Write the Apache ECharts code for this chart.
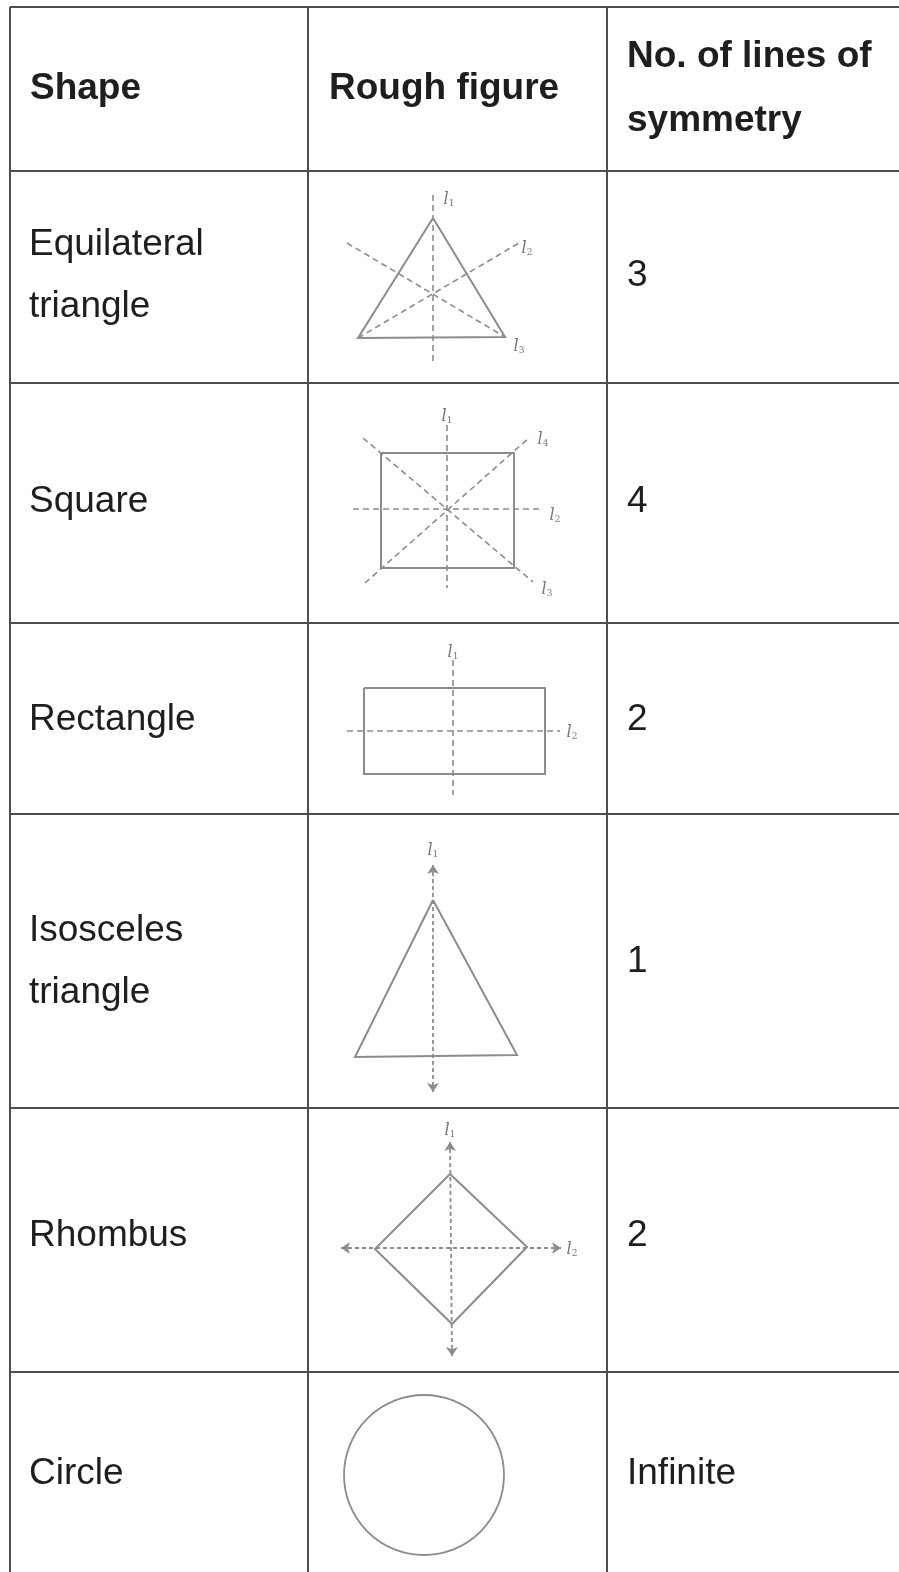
<!DOCTYPE html>
<html>
<head>
<meta charset="utf-8">
<script src="https://cdn.jsdelivr.net/npm/echarts@6/dist/echarts.min.js"></script>
<style>
html, body { margin: 0; padding: 0; background: #fff; }
#chart { width: 899px; height: 1572px; }
</style>
</head>
<body>
<div id="chart"></div>
<script>
/**
 * table grid, in picture pixels
 */
var rowLines = [7, 171, 383, 623, 814, 1108, 1372];
var colLines = [10, 308, 607];

/**
 * cell texts
 */
var headers = ['Shape', 'Rough figure', 'No. of lines of\nsymmetry'];
var shapeNames = ['Equilateral\ntriangle', 'Square', 'Rectangle', 'Isosceles\ntriangle', 'Rhombus', 'Circle'];
var symmetryCounts = ['3', '4', '2', '1', '2', 'Infinite'];
var rowTextY = [276, 502, 720, 962, 1236, 1474];

/**
 * rough figures: outlines and lines of symmetry
 */
var eqTriangle = [[433, 218], [505, 337], [358, 338], [433, 218]];
var eqAxes = [[[433, 195], [433, 362]], [[347, 243], [505, 337]], [[358, 338], [519, 243]]];
var squareShape = [[381, 453], [514, 453], [514, 568], [381, 568], [381, 453]];
var squareAxes = [[[447, 425], [447, 588]], [[353, 509], [542, 509]], [[363, 438], [533, 582]], [[365, 583], [530, 437]]];
var rectShape = [[364, 688], [545, 688], [545, 774], [364, 774], [364, 688]];
var rectAxes = [[[453, 660], [453, 795]], [[347, 731], [560, 731]]];
var isoTriangle = [[433, 900], [517, 1055], [355, 1057], [433, 900]];
var isoAxes = [[[433, 865], [433, 1092]]];
var rhombus = [[450, 1174], [527, 1247], [452, 1324], [375, 1249], [450, 1174]];
var rhombusAxes = [[[450, 1142], [452, 1356]], [[341, 1248], [561, 1248]]];
var circleShape = [[424, 1475]];

// line names l1, l2 ... next to the figures
var axisNames = [
	[449, 200, '1'], [527, 249, '2'], [519, 347, '3'],
	[447, 417, '1'], [543, 440, '4'], [555, 516, '2'], [547, 590, '3'],
	[453, 653, '1'], [572, 733, '2'],
	[433, 851, '1'],
	[450, 1131, '1'], [572, 1250, '2']
];

function seg(a, b) { return { coords: [a, b] }; }

// table rules
var tableData = [];
rowLines.forEach(function (y) { tableData.push(seg([colLines[0], y], [899, y])); });
colLines.forEach(function (x) { tableData.push(seg([x, rowLines[0]], [x, 1572])); });

var outlineData = [eqTriangle, squareShape, rectShape, isoTriangle, rhombus].map(function (p) {
	return { coords: p };
});
var dashData = [].concat(eqAxes, squareAxes, rectAxes).map(function (p) { return seg(p[0], p[1]); });
var arrowData = [].concat(isoAxes, rhombusAxes).map(function (p) { return seg(p[0], p[1]); });

var FONT = "'Liberation Sans', Arial, sans-serif";
var textColor = '#1e1e1e';

function textPoints(xs, ys, names) {
	return names.map(function (n, i) {
		return { value: [xs, ys[i]], name: n };
	});
}

var option = {
	animation: false,
	backgroundColor: '#fff',
	grid: { left: 0, right: 0, top: 0, bottom: 0 },
	xAxis: { type: 'value', min: 0, max: 899, show: false },
	yAxis: { type: 'value', min: 0, max: 1572, inverse: true, show: false },
	series: [
		{
			type: 'lines', coordinateSystem: 'cartesian2d', silent: true,
			lineStyle: { color: '#4d4d4d', width: 2, opacity: 1 },
			data: tableData
		},
		{
			type: 'lines', coordinateSystem: 'cartesian2d', polyline: true, silent: true,
			lineStyle: { color: '#8c8c8c', width: 2, opacity: 1 },
			data: outlineData
		},
		{
			type: 'lines', coordinateSystem: 'cartesian2d', silent: true,
			lineStyle: { color: '#8c8c8c', width: 1.6, type: [6, 4], opacity: 1 },
			data: dashData
		},
		{
			type: 'lines', coordinateSystem: 'cartesian2d', silent: true,
			symbol: ['arrow', 'arrow'], symbolSize: 9,
			lineStyle: { color: '#8c8c8c', width: 1.8, type: [4, 3], opacity: 1 },
			data: arrowData
		},
		{
			type: 'scatter', silent: true,
			symbol: 'circle', symbolSize: 160,
			itemStyle: { color: 'rgba(0,0,0,0)', borderColor: '#8c8c8c', borderWidth: 1.8, opacity: 1 },
			data: circleShape
		},
		{
			// header row
			type: 'scatter', silent: true, symbolSize: 0,
			itemStyle: { opacity: 1 },
			label: {
				show: true, position: 'right', distance: 0, formatter: '{b}',
				fontFamily: FONT, fontSize: 37, fontWeight: 'bold', color: textColor, lineHeight: 64
			},
			data: [
				{ value: [30, 89], name: headers[0] },
				{ value: [329, 89], name: headers[1] },
				{ value: [627, 89], name: headers[2] }
			]
		},
		{
			// shape names
			type: 'scatter', silent: true, symbolSize: 0,
			itemStyle: { opacity: 1 },
			label: {
				show: true, position: 'right', distance: 0, formatter: '{b}',
				fontFamily: FONT, fontSize: 37, color: textColor, lineHeight: 62
			},
			data: textPoints(29, rowTextY, shapeNames)
		},
		{
			// number of lines of symmetry
			type: 'scatter', silent: true, symbolSize: 0,
			itemStyle: { opacity: 1 },
			label: {
				show: true, position: 'right', distance: 0, formatter: '{b}',
				fontFamily: FONT, fontSize: 37, color: textColor
			},
			data: textPoints(627, rowTextY, symmetryCounts)
		},
		{
			// l1, l2 ...
			type: 'scatter', silent: true, symbolSize: 0,
			itemStyle: { opacity: 1 },
			label: {
				show: true, position: 'inside',
				formatter: function (p) { return '{l|l}{n|' + p.data.name + '}'; },
				rich: {
					l: { fontFamily: "'DejaVu Serif', serif", fontStyle: 'italic', fontSize: 16, color: '#777' },
					n: { fontFamily: "'DejaVu Serif', serif", fontSize: 9, color: '#777', padding: [8, 0, 0, 0] }
				}
			},
			data: axisNames.map(function (a) { return { value: [a[0], a[1]], name: a[2] }; })
		}
	]
};

var myChart = echarts.init(document.getElementById('chart'));
myChart.setOption(option);
</script>
</body>
</html>
